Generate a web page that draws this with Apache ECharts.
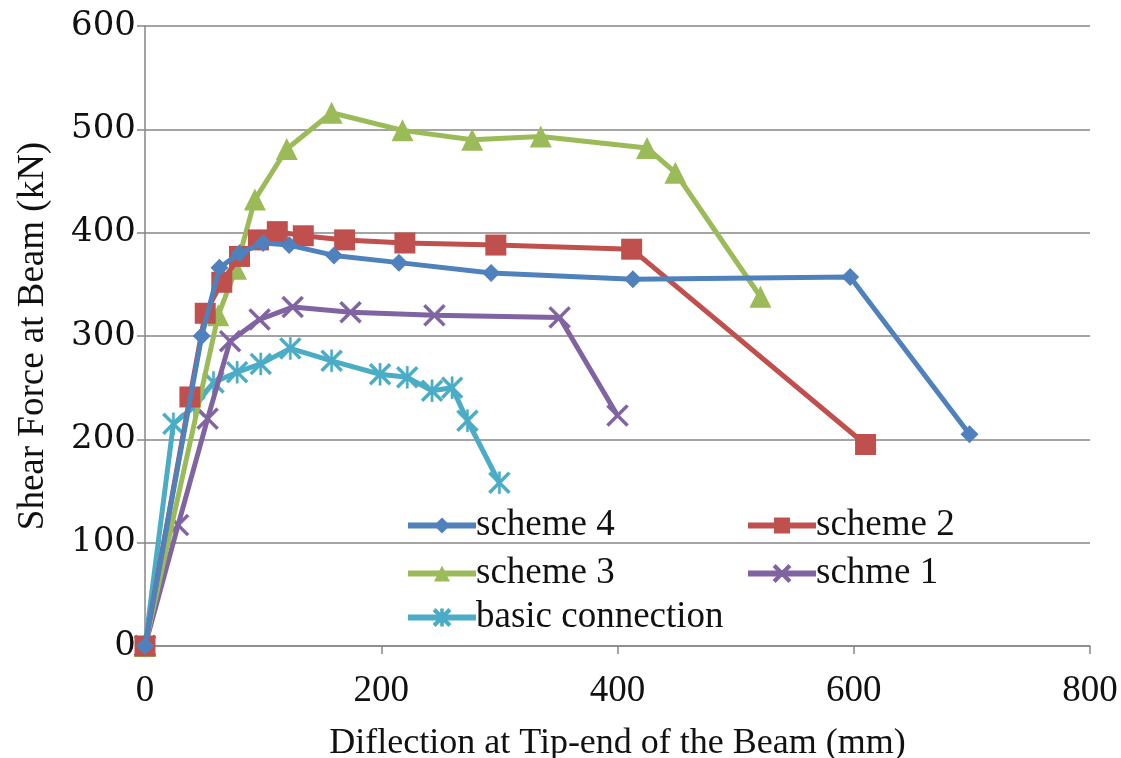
<!DOCTYPE html>
<html><head><meta charset="utf-8">
<script src="https://cdn.jsdelivr.net/npm/echarts@6/dist/echarts.min.js"></script>
<style>html,body{margin:0;padding:0;background:#fff}#c{width:1121px;height:758px}</style>
</head><body><div id="c"></div>
<script>
const seriesNames = ['scheme 4', 'scheme 2', 'scheme 3', 'schme 1', 'basic connection'];
const scheme4X = [0, 48, 63, 80, 100, 122, 160, 215, 293, 413, 597, 698];
const scheme4Y = [0, 300, 366, 380, 390, 388, 378, 371, 361, 355, 357, 205];
const scheme2X = [0, 38, 51, 65, 80, 96, 112, 134, 169, 220, 297, 412, 610];
const scheme2Y = [0, 241, 322, 352, 377, 393, 401, 397, 393, 390, 388, 384, 195];
const scheme3X = [0, 62, 77, 93, 120, 158, 218, 277, 335, 425, 449, 521];
const scheme3Y = [0, 320, 365, 432, 481, 516, 499, 490, 493, 482, 458, 338];
const schme1X = [0, 28, 53, 72, 97, 125, 174, 245, 351, 400];
const schme1Y = [0, 117, 220, 295, 316, 328, 323, 320, 318, 223];
const basicX = [0, 24, 42, 58, 78, 98, 123, 158, 199, 222, 243, 260, 273, 300];
const basicY = [0, 215, 232, 255, 265, 273, 288, 276, 263, 260, 247, 250, 218, 158];
const xTicks = [0, 200, 400, 600, 800];
const yTicks = [0, 100, 200, 300, 400, 500, 600];

const colors = ['#4F81BD', '#C0504D', '#9BBB59', '#8064A2', '#4BACC6'];
const xSym = 'path://M0,1L1,0L5,4L9,0L10,1L6,5L10,9L9,10L5,6L1,10L0,9L4,5Z';
const starSym = 'path://M0,1L1,0L5,4L9,0L10,1L6,5L10,9L9,10L5,6L1,10L0,9L4,5Z M4.5,0L5.5,0L5.5,10L4.5,10Z';
const symbols = ['diamond', 'rect', 'triangle', xSym, starSym];
const symSizes = [18, 21, 22, 22, 22];
const xs = [scheme4X, scheme2X, scheme3X, schme1X, basicX];
const ys = [scheme4Y, scheme2Y, scheme3Y, schme1Y, basicY];

const font = 'Liberation Serif';
const series = seriesNames.map((n, i) => ({
  name: n, type: 'line',
  data: xs[i].map((x, k) => [x, ys[i][k]]),
  symbol: symbols[i], symbolSize: symSizes[i],
  lineStyle: {width: 5, color: colors[i]},
  itemStyle: {color: colors[i], borderColor: colors[i], borderWidth: i >= 3 ? 0.5 : 0},
  z: 10 - i,
  animation: false
}));

const legendPos = [[400, 502], [740, 502], [400, 550], [740, 550], [400, 594]];
const legends = seriesNames.map((n, i) => ({
  data: [n], left: legendPos[i][0], top: legendPos[i][1],
  itemWidth: 68, itemHeight: 20, itemGap: 0,
  lineStyle: {width: 6},
  textStyle: {fontFamily: font, fontSize: 37, color: '#111', padding: [0, 0, 0, -5]},
  selectedMode: false
}));

const chart = echarts.init(document.getElementById('c'), null, {renderer: 'canvas'});
chart.setOption({
  animation: false,
  backgroundColor: '#fff',
  color: colors,
  grid: {left: 145, right: 31, top: 26, bottom: 112, containLabel: false, outerBoundsMode: 'none'},
  legend: legends,
  xAxis: {
    type: 'value', min: 0, max: 800, interval: 200,
    name: 'Diflection at Tip-end of the Beam (mm)', nameLocation: 'middle', nameGap: 80,
    nameTextStyle: {fontFamily: font, fontSize: 36, color: '#111'},
    axisLine: {show: true, lineStyle: {color: '#868686', width: 1.5}},
    axisTick: {show: true, length: 8, lineStyle: {color: '#868686', width: 1.5}},
    axisLabel: {fontFamily: font, fontSize: 37, color: '#111', margin: 27,
      formatter: v => xTicks.includes(v) ? String(v) : ''},
    splitLine: {show: false}
  },
  yAxis: {
    type: 'value', min: 0, max: 600, interval: 100,
    name: 'Shear Force at Beam (kN)', nameLocation: 'middle', nameGap: 93,
    nameTextStyle: {fontFamily: font, fontSize: 37, color: '#111'},
    axisLine: {show: true, lineStyle: {color: '#868686', width: 1.5}},
    axisTick: {show: true, length: 8, lineStyle: {color: '#868686', width: 1.5}},
    axisLabel: {fontFamily: 'DejaVu Serif', fontSize: 34, color: '#111', margin: 9,
      formatter: v => yTicks.includes(v) ? String(v) : ''},
    splitLine: {show: true, lineStyle: {color: '#868686', width: 1.5}}
  },
  series: series
});
</script></body></html>
